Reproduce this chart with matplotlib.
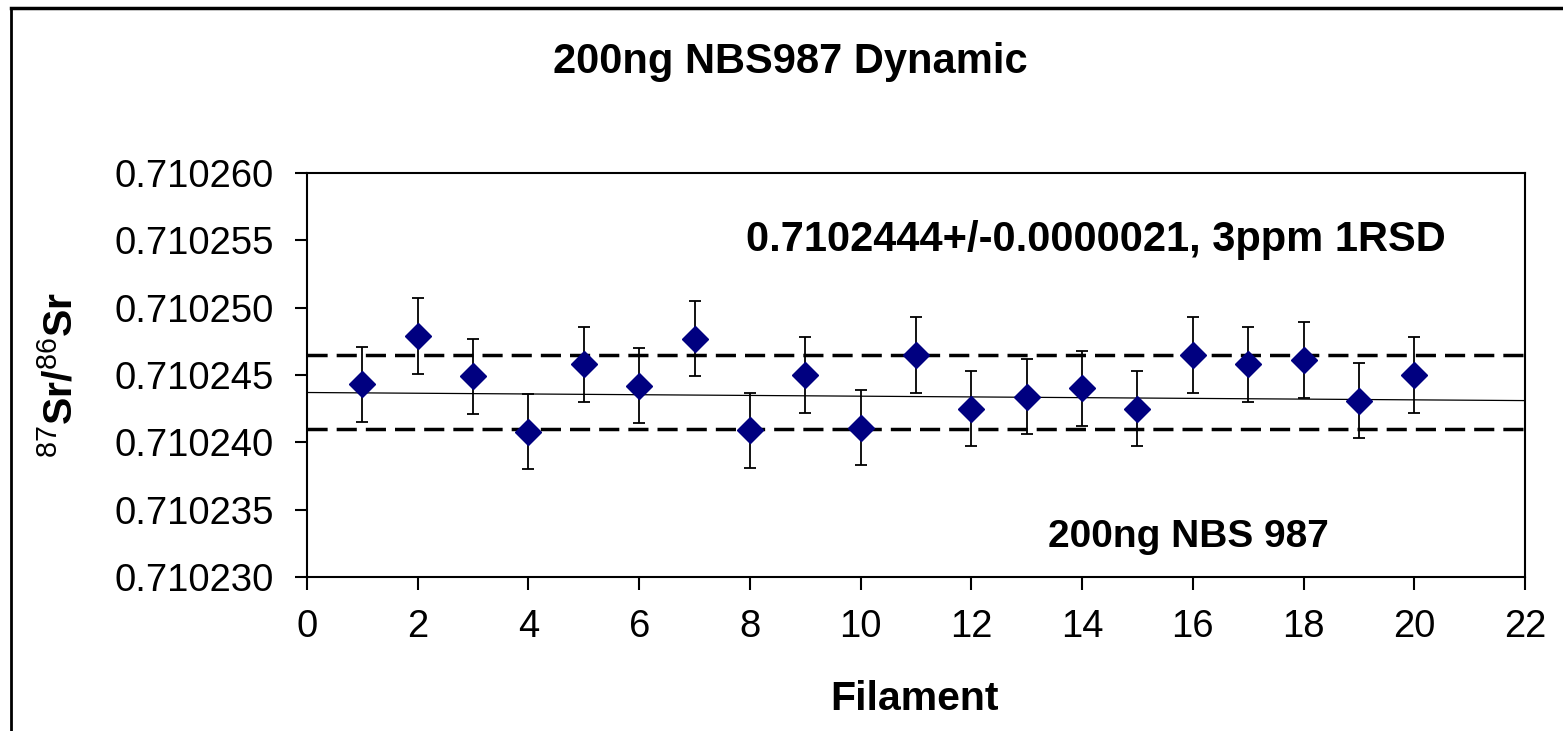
import numpy as np
import matplotlib
matplotlib.use("Agg")
import matplotlib.pyplot as plt
from matplotlib.lines import Line2D

plt.rcParams['font.family'] = ['Liberation Sans', 'DejaVu Sans']
plt.rcParams['mathtext.fontset'] = 'custom'
plt.rcParams['mathtext.rm'] = 'Liberation Sans'
plt.rcParams['mathtext.bf'] = 'Liberation Sans:bold'

# filament number vs 87Sr/86Sr
filament = [1, 2, 3, 4, 5, 6, 7, 8, 9, 10, 11, 12, 13, 14, 15, 16, 17, 18, 19, 20]
ratio = [0.7102443, 0.7102479, 0.7102449, 0.7102408, 0.7102458,
         0.7102442, 0.7102477, 0.7102409, 0.7102450, 0.7102411,
         0.7102465, 0.7102425, 0.7102434, 0.7102440, 0.7102425,
         0.7102465, 0.7102458, 0.7102461, 0.7102431, 0.7102450]
err = [2.8e-6] * 20

# reference lines
upper_lim = 0.7102465
lower_lim = 0.7102410
trend_x = [0, 22]
trend_y = [0.7102437, 0.7102431]

yticks = [0.710230, 0.710235, 0.710240, 0.710245, 0.710250, 0.710255, 0.710260]
xticks = list(range(0, 23, 2))

fig = plt.figure(figsize=(15.63, 7.31), dpi=100)
ax = fig.add_axes([307/1563, 1 - 577/731, (1525-307)/1563, (577-173)/731])

ax.axhline(upper_lim, color='black', lw=2.5, dashes=(5.8, 2.6), zorder=1)
ax.axhline(lower_lim, color='black', lw=2.5, dashes=(5.8, 2.6), zorder=1)
ax.plot(trend_x, trend_y, color='black', lw=0.9, zorder=2)

ax.errorbar(filament, ratio, yerr=err, fmt='D', color='#000080', ms=13,
            ecolor='black', elinewidth=1.3, capsize=4, capthick=1.3, zorder=3)

ax.set_xlim(0, 22)
ax.set_ylim(0.710230, 0.710260)
ax.set_xticks(xticks)
ax.set_yticks(yticks)
ax.set_yticklabels(['%.6f' % v for v in yticks])
ax.tick_params(axis='both', direction='out', length=9, width=1.5, labelsize=27.5)
ax.tick_params(axis='y', pad=15)
ax.tick_params(axis='x', pad=14)
for s in ax.spines.values():
    s.set_linewidth(1.5)

ax.text(0.648, 0.834, '0.7102444+/-0.0000021, 3ppm 1RSD', transform=ax.transAxes,
        ha='center', va='center', fontsize=30, fontweight='bold')
ax.text(0.724, 0.099, '200ng NBS 987', transform=ax.transAxes,
        ha='center', va='center', fontsize=28, fontweight='bold')

ax.set_xlabel('Filament', fontsize=29.5, fontweight='bold')
ax.xaxis.set_label_coords(0.499, -0.255)
ax.set_ylabel(r'$^{\mathrm{87}}\mathbf{Sr/}^{\mathrm{86}}\mathbf{Sr}$', fontsize=29.5)
ax.yaxis.set_label_coords(-0.186, 0.5)

fig.text(790/1563, 1 - 62/731, '200ng NBS987 Dynamic', ha='center', va='center',
         fontsize=30, fontweight='bold')

# outer frame (left and top edges only)
fig.add_artist(Line2D([11/1563, 11/1563], [0, 1 - 8/731], color='black', lw=2,
                      transform=fig.transFigure))
fig.add_artist(Line2D([11/1563, 1], [1 - 8/731, 1 - 8/731], color='black', lw=2.5,
                      transform=fig.transFigure))

fig.savefig('out.png', dpi=100)
